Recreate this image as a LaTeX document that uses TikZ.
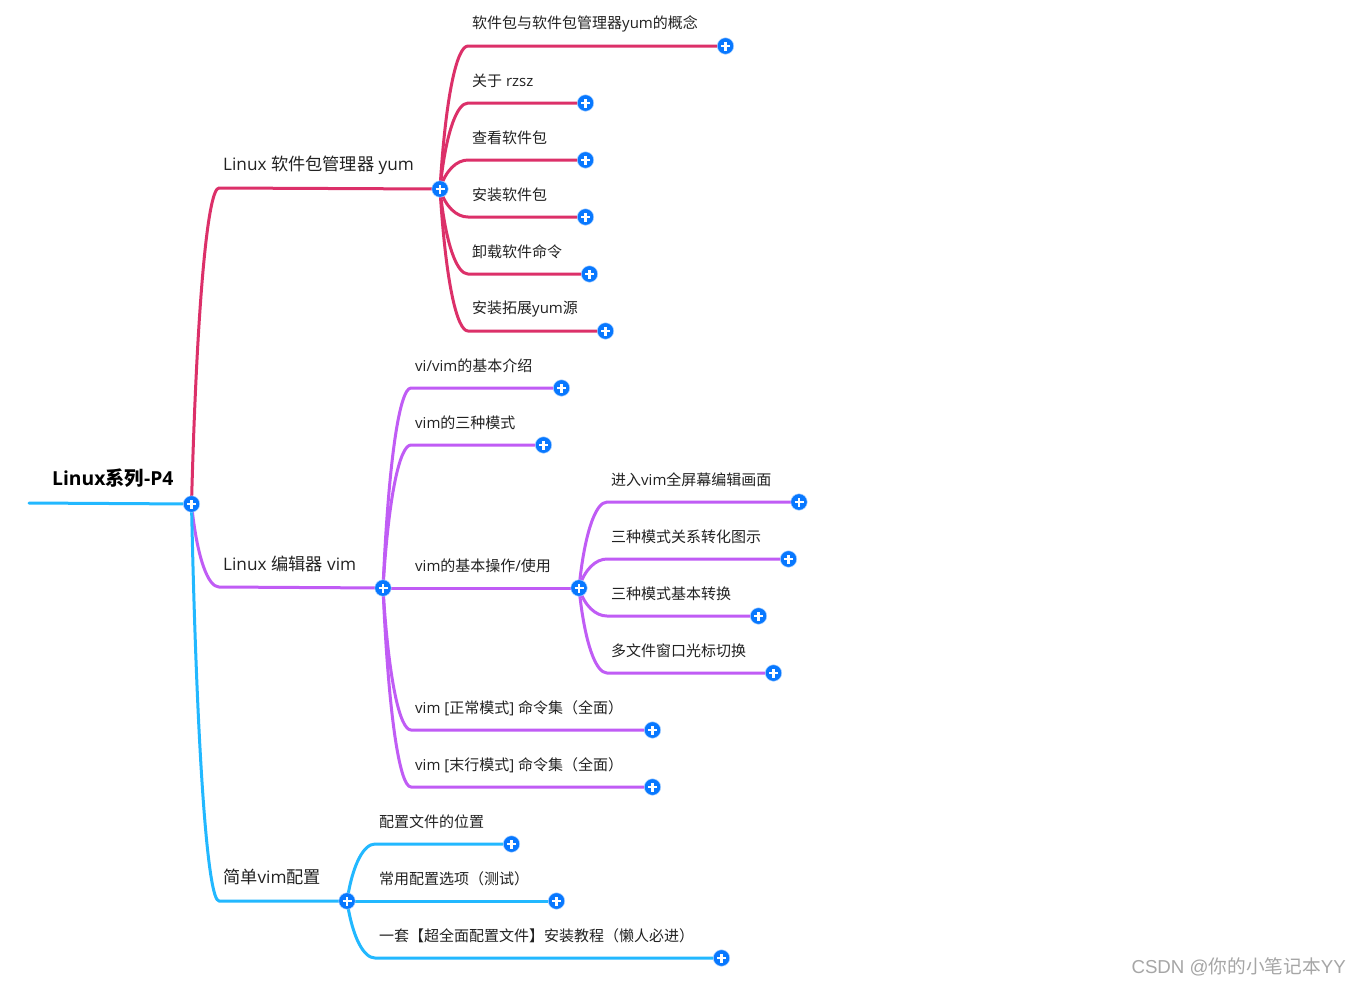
\documentclass[tikz,border=0pt]{standalone}
\usepackage{fontspec}
\setmainfont{Open Sans}
\newfontfamily\cjk{Noto Sans CJK SC}
\newcommand\C[1]{{\cjk #1}}
\usetikzlibrary{calc,backgrounds}
\definecolor{cred}{HTML}{DC3069}
\definecolor{cpur}{HTML}{C05CF5}
\definecolor{cblu}{HTML}{22B8FF}
\definecolor{cdot}{HTML}{0878FF}
\definecolor{ctxt}{HTML}{222222}
\tikzset{
  x=1pt,y=-1pt,
  dot/.style={circle,draw=white!70!cdot,line width=.5pt,fill=cdot,minimum size=16.5pt,inner sep=0pt,
    path picture={\draw[white,line width=2.2pt]
      ($(path picture bounding box.center)+(-4.5pt,0)$) -- ($(path picture bounding box.center)+(4.5pt,0)$)
      ($(path picture bounding box.center)+(0,-4.5pt)$) -- ($(path picture bounding box.center)+(0,4.5pt)$);}},
  leaf/.style={anchor=west,inner sep=0pt,text=ctxt,font=\fontsize{15}{17}\selectfont},
  mid/.style={anchor=west,inner sep=0pt,text=ctxt,font=\fontsize{17.2}{20}\selectfont},
  top/.style={anchor=west,inner sep=0pt,text=black,font=\fontsize{19.3}{22}\selectfont\bfseries},
  wire/.style={line width=3pt,line cap=round,line join=round},
}
% parent dot, elbow, end dot, colour
\newcommand\conn[4]{\draw[wire,#4] let \p1=(#1.center),\p2=(#2) in
  (#1.center) .. controls ({\x1+.2*(\x2-\x1)},{\y1+.65*(\y2-\y1)}) and ({\x1+.6*(\x2-\x1)},{\y2}) .. (#2) -- (#3.center);}
\begin{document}
\begin{tikzpicture}
\useasboundingbox (0,0) rectangle (1361,986);
% hubs
\node[dot] (root) at (191.5,504) {};
\node[dot] (yum) at (440,189) {};
\node[dot] (vim) at (383,588) {};
\node[dot] (conf) at (347,901) {};
\node[dot] (use) at (579,588) {};
% ends
\node[dot] (y1) at (725.5,46) {};
\node[dot] (y2) at (585.5,103) {};
\node[dot] (y3) at (585.5,160) {};
\node[dot] (y4) at (585.5,217) {};
\node[dot] (y5) at (589.5,274) {};
\node[dot] (y6) at (605.5,331) {};
\node[dot] (v1) at (561.5,388) {};
\node[dot] (v2) at (543.5,445) {};
\node[dot] (v4) at (652.5,730) {};
\node[dot] (v5) at (652.5,787) {};
\node[dot] (u1) at (799,502) {};
\node[dot] (u2) at (788.5,559) {};
\node[dot] (u3) at (758.5,616) {};
\node[dot] (u4) at (773.5,673) {};
\node[dot] (c1) at (511.5,844) {};
\node[dot] (c2) at (556.5,901) {};
\node[dot] (c3) at (721.5,958) {};
% labels
\node[top] (troot) at (52,478) {Linux\C{系列}-P4};
\node[mid] (tyum) at (223,165) {Linux \C{软件包管理器} yum};
\node[mid] (tvim) at (223,564) {Linux \C{编辑器} vim};
\node[mid] (tconf) at (223,877) {\C{简单}vim\C{配置}};
\node[leaf] (ty1) at (472,24) {\C{软件包与软件包管理器}yum\C{的概念}};
\node[leaf] (ty2) at (472,81) {\C{关于} rzsz};
\node[leaf] (ty3) at (472,138) {\C{查看软件包}};
\node[leaf] (ty4) at (472,195) {\C{安装软件包}};
\node[leaf] (ty5) at (472,252) {\C{卸载软件命令}};
\node[leaf] (ty6) at (472,309) {\C{安装拓展}yum\C{源}};
\node[leaf] (tv1) at (415,366) {vi/vim\C{的基本介绍}};
\node[leaf] (tv2) at (415,423) {vim\C{的三种模式}};
\node[leaf] (tv3) at (415,566) {vim\C{的基本操作}/\C{使用}};
\node[leaf] (tv4) at (415,708) {vim [\C{正常模式}] \C{命令集（全面）}};
\node[leaf] (tv5) at (415,765) {vim [\C{末行模式}] \C{命令集（全面）}};
\node[leaf] (tu1) at (611,480) {\C{进入}vim\C{全屏幕编辑画面}};
\node[leaf] (tu2) at (611,537) {\C{三种模式关系转化图示}};
\node[leaf] (tu3) at (611,594) {\C{三种模式基本转换}};
\node[leaf] (tu4) at (611,651) {\C{多文件窗口光标切换}};
\node[leaf] (tc1) at (379,822) {\C{配置文件的位置}};
\node[leaf] (tc2) at (379,879) {\C{常用配置选项（测试）}};
\node[leaf] (tc3) at (379,936) {\C{一套【超全面配置文件】安装教程（懒人必进）}};
\node[anchor=east,inner sep=0pt,text=black!35,font=\fontsize{18.7}{22}\selectfont] (mark) at (1346,967) {\fontspec{Liberation Sans}CSDN @\C{你的小笔记本}YY};
% elbows
\coordinate (start) at (29,503);
\coordinate (eyum) at (219,188);
\coordinate (evim) at (219,587);
\coordinate (econf) at (219,901);
\coordinate (ey1) at (468,46);
\coordinate (ey2) at (468,103);
\coordinate (ey3) at (468,160);
\coordinate (ey4) at (468,217);
\coordinate (ey5) at (468,274);
\coordinate (ey6) at (468,331);
\coordinate (ev1) at (411,388);
\coordinate (ev2) at (411,445);
\coordinate (ev4) at (411,730);
\coordinate (ev5) at (411,787);
\coordinate (eu1) at (607,502);
\coordinate (eu2) at (607,559);
\coordinate (eu3) at (607,616);
\coordinate (eu4) at (607,673);
\coordinate (ec1) at (375,844);
\coordinate (ec3) at (375,958);
\begin{scope}[on background layer]
\fill[white] (0,0) rectangle (1361,986);
\conn{root}{eyum}{yum}{cred}
\conn{yum}{ey1}{y1}{cred}
\conn{yum}{ey2}{y2}{cred}
\conn{yum}{ey3}{y3}{cred}
\conn{yum}{ey4}{y4}{cred}
\conn{yum}{ey5}{y5}{cred}
\conn{yum}{ey6}{y6}{cred}
\conn{root}{evim}{vim}{cpur}
\conn{vim}{ev1}{v1}{cpur}
\conn{vim}{ev2}{v2}{cpur}
\draw[wire,cpur] (vim.center) -- (use.center);
\conn{vim}{ev4}{v4}{cpur}
\conn{vim}{ev5}{v5}{cpur}
\conn{use}{eu1}{u1}{cpur}
\conn{use}{eu2}{u2}{cpur}
\conn{use}{eu3}{u3}{cpur}
\conn{use}{eu4}{u4}{cpur}
\conn{root}{econf}{conf}{cblu}
\conn{conf}{ec1}{c1}{cblu}
\draw[wire,cblu] (conf.center) -- (c2.center);
\conn{conf}{ec3}{c3}{cblu}
\draw[wire,cblu] (start) -- (root.center);
\end{scope}
\end{tikzpicture}
\end{document}
